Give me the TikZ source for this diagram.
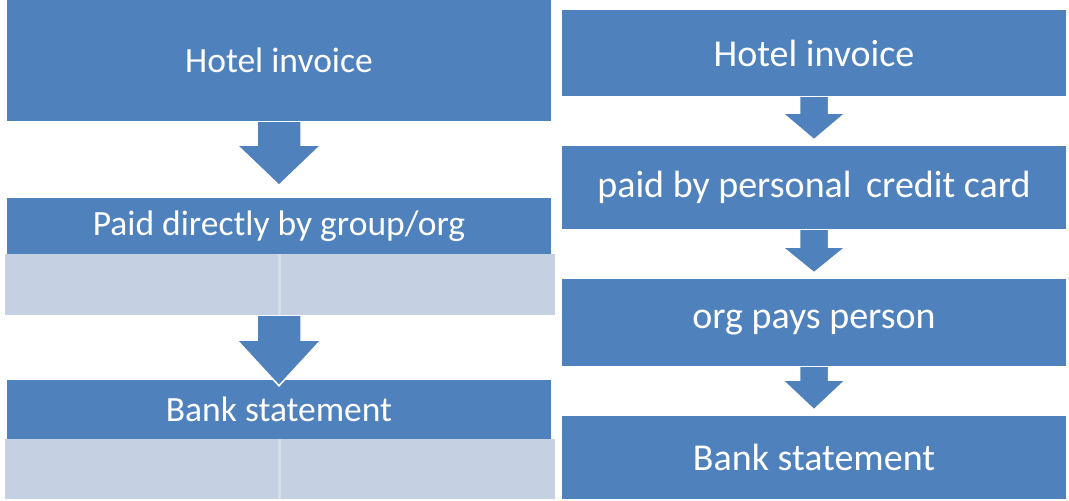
\documentclass[tikz,border=0pt]{standalone}
\usepackage{fontspec}
\setmainfont{Carlito}
\usetikzlibrary{calc}
\definecolor{boxblue}{HTML}{4F81BD}
\definecolor{cellblue}{HTML}{C5D1E3}
\definecolor{cellline}{HTML}{D6DEEA}
\tikzset{
  bluebox/.style={rectangle, fill=boxblue, inner sep=0pt, text=white},
  leftbox/.style={bluebox, minimum width=544pt, font=\fontsize{35.5}{40}\selectfont},
  rightbox/.style={bluebox, minimum width=504pt, font=\fontsize{38}{42}\selectfont},
  cellbox/.style={rectangle, fill=cellblue, inner sep=0pt, minimum width=550pt},
  celldiv/.style={draw=cellline, line width=3pt},
  blockarrow/.style={fill=boxblue, draw=white, line width=1.5pt, line join=miter},
}
\begin{document}
\begin{tikzpicture}[x=1pt, y=-1pt]
\useasboundingbox (0,0) rectangle (1069,501);
\fill[white] (0,0) rectangle (1069,501);

% left column
\node[leftbox, minimum height=121pt] (L1) at (279,60.5) {Hotel invoice};
\node[leftbox, minimum height=57pt] (L2) at (279,226) {Paid directly by group/org};
\node[cellbox, minimum height=61pt] (L2b) at (280,284.5) {};
\node[leftbox, minimum height=59pt] (L3) at (279,409.5) {Bank statement};
\node[cellbox, minimum height=60pt] (L3b) at (280,469) {};
\draw[celldiv] (L2b.north -| L2.south) -- (L2b.south -| L2.south);
\draw[celldiv] (L3b.north -| L3.south) -- (L3b.south -| L3.south);

\path[blockarrow] ($(L1.south)+(-22,1)$) -- ++(0,23) -- ++(-20,0) -- ($(L2.north)+(0,-12)$)
  -- ($(L1.south)+(42,24)$) -- ++(-20,0) -- ++(0,-23);
\path[blockarrow] ($(L2b.south -| L2.south)+(-22,1)$) -- ++(0,24) -- ++(-20,0) -- ($(L3.north)+(0,6)$)
  -- ($(L2b.south -| L2.south)+(42,25)$) -- ++(-20,0) -- ++(0,-24);

% right column
\node[rightbox, minimum height=86pt] (R1) at (814,53) {Hotel invoice};
\node[rightbox, minimum height=83pt] (R2) at (814,187.5) {paid by personal\hspace{6pt} credit card};
\node[rightbox, minimum height=87pt] (R3) at (814,322.5) {org pays person};
\node[rightbox, minimum height=83pt] (R4) at (814,457.5) {Bank statement};

\path[blockarrow] ($(R1.south)+(-14.5,1)$) -- ++(0,16) -- ++(-17,0) -- ($(R2.north)+(0,-6)$)
  -- ($(R1.south)+(31.5,17)$) -- ++(-17,0) -- ++(0,-16);
\path[blockarrow] ($(R2.south)+(-14.5,1)$) -- ++(0,17) -- ++(-17,0) -- ($(R3.north)+(0,-6)$)
  -- ($(R2.south)+(31.5,18)$) -- ++(-17,0) -- ++(0,-17);
\path[blockarrow] ($(R3.south)+(-14.5,1)$) -- ++(0,13) -- ++(-17,0) -- ($(R4.north)+(0,-6)$)
  -- ($(R3.south)+(31.5,14)$) -- ++(-17,0) -- ++(0,-13);
\end{tikzpicture}
\end{document}
